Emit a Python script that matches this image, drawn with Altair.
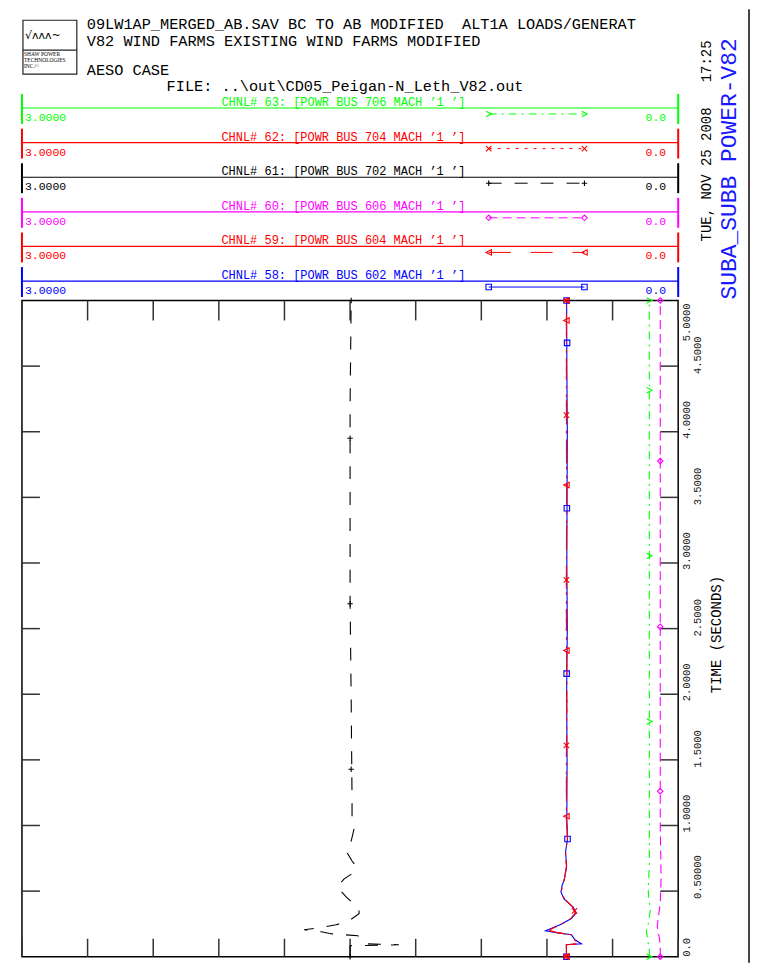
import altair as alt
import pandas as pd

# ---------------- text content ----------------
NB = "\u00a0"
title_line1 = "09LW1AP_MERGED_AB.SAV BC TO AB MODIFIED" + NB + NB + "ALT1A LOADS/GENERAT"
title_line2 = "V82 WIND FARMS EXISTING WIND FARMS MODIFIED"
case_name = "AESO CASE"
file_line = "FILE: ..\\out\\CD05_Peigan-N_Leth_V82.out"
date_text = "TUE, NOV 25 2008" + NB + NB + NB + "17:25"
plot_title = "SUBA_SUBB POWER-V82"
time_title = "TIME (SECONDS)"
logo_lines = ["SHAW POWER", "TECHNOLOGIES", "INC.\u00a9"]

# ---------------- channels (legend order, top to bottom) ----------------
chan_nums = ["63", "62", "61", "60", "59", "58"]
chan_buses = ["706", "704", "702", "606", "604", "602"]
chan_left = ["3.0000"] * 6
chan_right = ["0.0"] * 6

# ---------------- axes ----------------
value_ticks = [0.0, 0.3, 0.6, 0.9, 1.2, 1.5, 1.8, 2.1, 2.4, 2.7, 3.0]
time_ticks = [0.5, 1.0, 1.5, 2.0, 2.5, 3.0, 3.5, 4.0, 4.5]
time_lab_a_t = [1.0, 2.0, 3.0, 4.0]
time_lab_a = ["1.0000", "2.0000", "3.0000", "4.0000"]
time_lab_b_t = [0.5, 1.5, 2.5, 3.5, 4.5]
time_lab_b = ["0.50000", "1.5000", "2.5000", "3.5000", "4.5000"]

# ---------------- series (time s, value) ----------------
t63 = [0.0, 0.09, 0.10, 0.15, 0.20, 0.25, 0.35, 0.50, 0.70, 1.00, 2.00, 3.00, 4.00, 5.00]
v63 = [0.132, 0.132, 0.137, 0.141, 0.146, 0.137, 0.128, 0.137, 0.132, 0.132, 0.132, 0.132, 0.132, 0.132]

t_red = [0.0, 0.091, 0.099, 0.129, 0.167, 0.182, 0.198, 0.213, 0.243, 0.289, 0.334, 0.380,
         0.441, 0.494, 0.547, 0.593, 0.691, 0.798, 0.897, 1.049, 1.5, 2.0, 2.5, 3.0, 3.5, 4.0, 4.5, 5.0]
t62 = list(t_red)
v62 = [0.511, 0.511, 0.456, 0.474, 0.488, 0.547, 0.588, 0.579, 0.538, 0.492, 0.470, 0.483,
       0.520, 0.534, 0.529, 0.520, 0.511, 0.515, 0.506, 0.511, 0.511, 0.509, 0.511, 0.511, 0.510, 0.511, 0.511, 0.511]
t59 = list(t_red)
v59 = [0.511, 0.511, 0.456, 0.474, 0.488, 0.547, 0.588, 0.579, 0.538, 0.492, 0.470, 0.483,
       0.520, 0.534, 0.529, 0.520, 0.511, 0.515, 0.506, 0.511, 0.511, 0.509, 0.511, 0.511, 0.510, 0.511, 0.511, 0.511]
t58 = list(t_red)
v58 = [0.511, 0.511, 0.442, 0.472, 0.488, 0.550, 0.606, 0.584, 0.540, 0.490, 0.466, 0.481,
       0.522, 0.536, 0.530, 0.520, 0.510, 0.515, 0.506, 0.509, 0.508, 0.510, 0.507, 0.509, 0.508, 0.507, 0.509, 0.510]

t61 = [0.0, 0.084, 0.091, 0.099, 0.160, 0.175, 0.190, 0.205, 0.220, 0.243, 0.274, 0.327, 0.365, 0.388,
       0.456, 0.532, 0.593, 0.653, 0.699, 0.729, 0.805, 0.881, 0.973, 1.049, 1.201, 1.960, 2.720, 3.5, 4.2, 5.0]
v61 = [1.500, 1.500, 1.277, 1.436, 1.464, 1.587, 1.632, 1.710, 1.641, 1.564, 1.505, 1.459, 1.459, 1.473,
       1.518, 1.559, 1.527, 1.473, 1.477, 1.491, 1.518, 1.495, 1.482, 1.491, 1.491, 1.495, 1.500, 1.500, 1.500, 1.495]

t60 = [0.0, 0.09, 0.15, 0.23, 0.30, 0.40, 0.60, 1.0, 2.0, 3.0, 4.0, 5.0]
v60 = [0.082, 0.082, 0.087, 0.096, 0.091, 0.082, 0.078, 0.082, 0.082, 0.082, 0.082, 0.082]

# marker positions along each curve
mt63 = [0.0, 1.793, 3.055, 4.316, 5.0]
mv63 = [0.132, 0.132, 0.132, 0.132, 0.132]
mt62 = [0.0, 0.35, 1.611, 2.872, 4.126, 5.0]
mv62 = [0.511, 0.474, 0.511, 0.511, 0.511, 0.511]
mt61 = [0.0, 1.429, 2.690, 3.951, 5.0]
mv61 = [1.500, 1.495, 1.500, 1.500, 1.495]
mt60 = [0.0, 1.261, 2.515, 3.777, 5.0]
mv60 = [0.082, 0.082, 0.082, 0.082, 0.082]
mt59 = [0.0, 1.071, 2.333, 3.594, 4.848, 5.0]
mv59 = [0.511, 0.511, 0.511, 0.511, 0.511, 0.511]
mt58 = [0.0, 0.897, 2.157, 3.417, 4.677, 5.0]
mv58 = [0.511, 0.506, 0.510, 0.509, 0.508, 0.510]

series = [(t63, v63, mt63, mv63), (t62, v62, mt62, mv62), (t61, v61, mt61, mv61),
          (t60, v60, mt60, mv60), (t59, v59, mt59, mv59), (t58, v58, mt58, mv58)]

# ---------------- styles ----------------
colors = ["#00ff00", "#ff0000", "#000000", "#ff00ff", "#ff0000", "#0000ff"]
dashes = [[8, 5, 2, 5], [3, 6], [13, 13], [9, 5], [22, 20], None]
shapes = ["M-1,-1L1,0L-1,1", "M-1,-1L1,1M-1,1L1,-1", "M-1,0L1,0M0,-1L0,1",
          "diamond", "M1,-1L-1,0L1,1Z", "square"]
draw_order = [2, 3, 0, 5, 4, 1]

W = H = 658
MONO = "Liberation Mono"


def one():
    return alt.Data(values=[{"k": 0}])


def X():
    return alt.X("v:Q", scale=alt.Scale(domain=[0, 3], reverse=True, nice=False, zero=False), axis=None)


def Y():
    return alt.Y("t:Q", scale=alt.Scale(domain=[0, 5], nice=False, zero=False), axis=None)


def txt(s, x, y, size, color="black", align="left", angle=None, font=MONO, baseline="alphabetic"):
    kw = dict(text=s, fontSize=size, color=color, align=align, baseline=baseline, font=font)
    if angle is not None:
        kw["angle"] = angle
    return alt.Chart(one()).mark_text(**kw).encode(x=alt.value(x), y=alt.value(y))


def hrule(x1, x2, y, color, width=1.0, dash=None):
    kw = dict(color=color, strokeWidth=width)
    if dash:
        kw["strokeDash"] = dash
    return alt.Chart(one()).mark_rule(**kw).encode(x=alt.value(x1), x2=alt.value(x2), y=alt.value(y))


def vrule(x, y1, y2, color, width=1.0):
    return alt.Chart(one()).mark_rule(color=color, strokeWidth=width).encode(
        x=alt.value(x), y=alt.value(y1), y2=alt.value(y2))


layers = []

# ---- header ----
layers.append(alt.Chart(one()).mark_rect(fill="white", stroke="#222", strokeWidth=1.2).encode(
    x=alt.value(1), x2=alt.value(55), y=alt.value(-281), y2=alt.value(-227)))
layers.append(hrule(1, 55, -251, "#222", 1.2))
layers.append(txt("\u221a\u028c\u028c\u028c~", 3, -262, 11, font="DejaVu Sans"))
for j, s in enumerate(logo_lines):
    layers.append(txt(s, 2, -245 + 6 * j, 5.5, font="Liberation Serif"))
layers.append(txt(title_line1, 65, -272, 15.3))
layers.append(txt(title_line2, 65, -255, 15.3))
layers.append(txt(case_name, 65, -226, 15.3))
layers.append(txt(file_line, 145, -210, 15.3))

# ---- legend rows ----
for i in range(6):
    yl = -193 + 34.7 * i
    c = colors[i]
    layers.append(hrule(0, W, yl, c, 1.2))
    layers.append(vrule(0, yl - 14, yl + 16, c, 2))
    layers.append(vrule(W, yl - 14, yl + 16, c, 2))
    label = f"CHNL# {chan_nums[i]}: [POWR BUS {chan_buses[i]} MACH \u20191{NB}\u2019]"
    layers.append(txt(label, 200, yl - 2, 12, color=c))
    layers.append(txt(chan_left[i], 3, yl + 13, 11.5, color=c))
    layers.append(txt(chan_right[i], 646, yl + 13, 11.5, color=c, align="right"))
    layers.append(hrule(468, 564, yl + 6, c, 1, dashes[i]))
    for xm in (468, 564):
        layers.append(alt.Chart(one()).mark_point(shape=shapes[i], filled=False, size=30,
                                                  strokeWidth=1.1, color=c, opacity=1).encode(
            x=alt.value(xm), y=alt.value(yl + 6)))

# ---- right side texts ----
layers.append(txt(date_text, 691, -160, 14, align="center", angle=270))
layers.append(txt(plot_title, 716, -132, 23, color="#1a1aff", align="center", angle=270))
layers.append(txt(time_title, 701, 335, 14, align="center", angle=270))

# page border on the right
layers.append(vrule(729, -292, 664, "#444", 2))

# ---- ticks ----
vt = pd.DataFrame({"v": value_ticks})
tt = pd.DataFrame({"t": time_ticks})
tick_col = "#333"
layers.append(alt.Chart(vt).mark_rule(color=tick_col, strokeWidth=1.5).encode(x=X(), y=alt.value(0), y2=alt.value(20)))
layers.append(alt.Chart(vt).mark_rule(color=tick_col, strokeWidth=1.5).encode(x=X(), y=alt.value(H - 18), y2=alt.value(H)))
layers.append(alt.Chart(tt).mark_rule(color=tick_col, strokeWidth=1.5).encode(y=Y(), x=alt.value(0), x2=alt.value(18)))
layers.append(alt.Chart(tt).mark_rule(color=tick_col, strokeWidth=1.5).encode(y=Y(), x=alt.value(W - 18), x2=alt.value(W)))

# time tick labels (rotated)
la = pd.DataFrame({"t": time_lab_a_t, "s": time_lab_a})
lb = pd.DataFrame({"t": time_lab_b_t, "s": time_lab_b})
lab_kw = dict(font=MONO, fontSize=10.5, angle=270, align="left", baseline="alphabetic", color="#222")
layers.append(alt.Chart(la).mark_text(dx=-7, **lab_kw).encode(y=Y(), x=alt.value(670), text="s:N"))
layers.append(alt.Chart(lb).mark_text(dx=-8, **lab_kw).encode(y=Y(), x=alt.value(681), text="s:N"))
layers.append(alt.Chart(pd.DataFrame({"t": [0.0], "s": ["0.0"]})).mark_text(**lab_kw).encode(
    y=Y(), x=alt.value(670), text="s:N"))
lab_kw_r = dict(lab_kw)
lab_kw_r["align"] = "right"
layers.append(alt.Chart(pd.DataFrame({"t": [5.0], "s": ["5.0000"]})).mark_text(dx=-3, **lab_kw_r).encode(
    y=Y(), x=alt.value(670), text="s:N"))

# ---- curves ----
for i in draw_order:
    t, v, mt, mv = series[i]
    df = pd.DataFrame({"t": t, "v": v})
    kw = dict(color=colors[i], strokeWidth=1.1)
    if dashes[i]:
        kw["strokeDash"] = dashes[i]
    layers.append(alt.Chart(df).mark_line(**kw).encode(x=X(), y=Y(), order="t:Q"))
    mdf = pd.DataFrame({"t": mt, "v": mv})
    layers.append(alt.Chart(mdf).mark_point(shape=shapes[i], filled=False, size=30, strokeWidth=1.1,
                                             color=colors[i], opacity=1).encode(x=X(), y=Y()))

chart = alt.layer(*layers).properties(
    width=W, height=H,
    padding={"left": 14, "top": 292, "right": 73, "bottom": 6},
    autosize=alt.AutoSizeParams(type="none"),
).configure_view(stroke="black", strokeWidth=1.5)

chart.save("out.html", embed_options={"renderer": "svg", "actions": False})
